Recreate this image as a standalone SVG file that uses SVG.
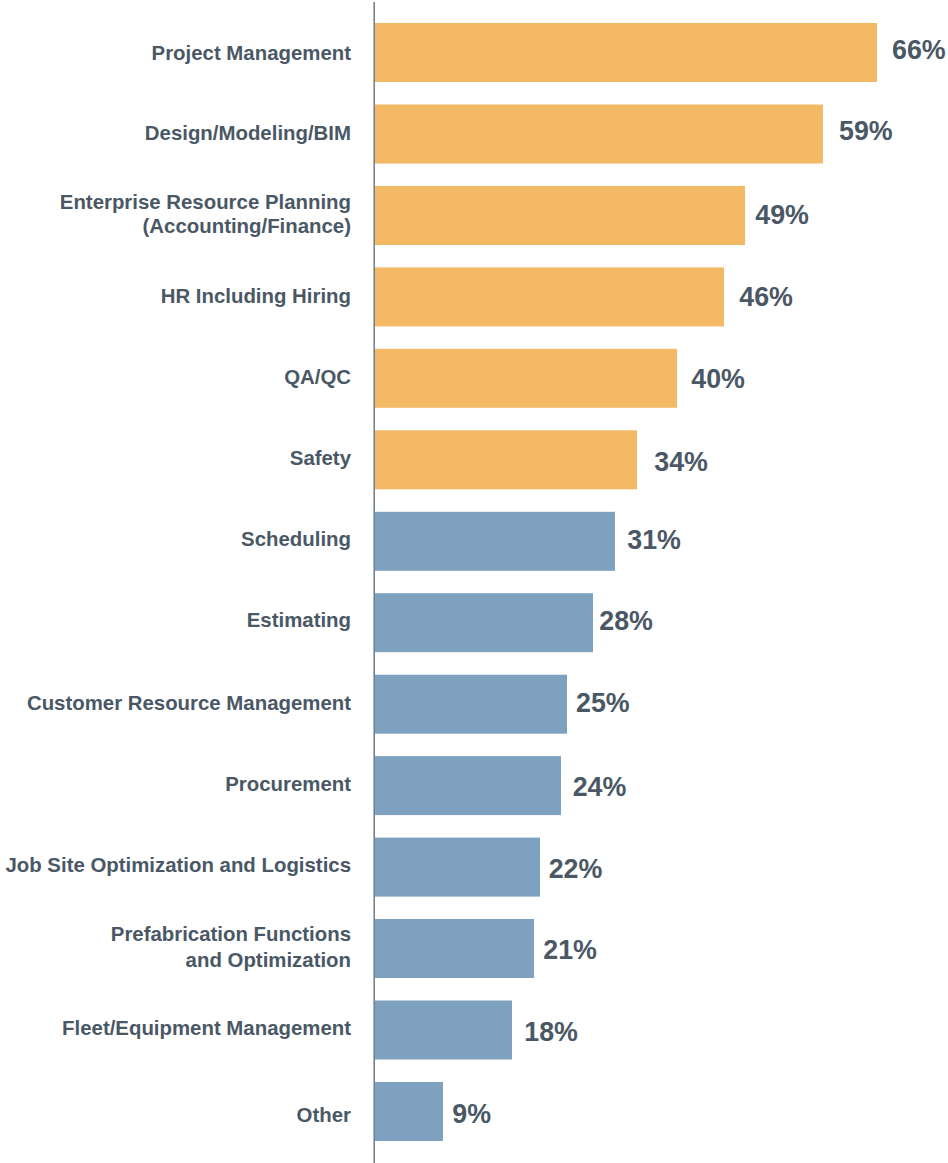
<svg xmlns="http://www.w3.org/2000/svg" width="948" height="1163" viewBox="0 0 948 1163">
<style>
.lbl{font-family:"Liberation Sans",Arial,sans-serif;font-weight:bold;font-size:20.4px;fill:#4a5866;text-anchor:end}
.val{font-family:"Liberation Sans",Arial,sans-serif;font-weight:bold;font-size:26.8px;fill:#4a5866}
.o{fill:#f4b965}
.b{fill:#7ea1bf}
</style>
<rect width="948" height="1163" fill="#ffffff"/>
<g id="bars">
<g id="n1"><rect class="o" x="375" y="23" width="502" height="59"/><text class="lbl" x="351" y="60">Project Management</text><text class="val" x="892" y="58.5">66%</text></g>
<g id="n2"><rect class="o" x="375" y="104.5" width="448" height="59"/><text class="lbl" x="351" y="139.5">Design/Modeling/BIM</text><text class="val" x="839" y="140">59%</text></g>
<g id="n3"><rect class="o" x="375" y="186" width="370" height="59"/><text class="lbl" x="351" y="209.3">Enterprise Resource Planning</text><text class="lbl" x="351" y="233.3">(Accounting/Finance)</text><text class="val" x="755.3" y="224.3">49%</text></g>
<g id="n4"><rect class="o" x="375" y="267.4" width="349" height="59"/><text class="lbl" x="351" y="303.3">HR Including Hiring</text><text class="val" x="739.3" y="305.7">46%</text></g>
<g id="n5"><rect class="o" x="375" y="348.8" width="302" height="59"/><text class="lbl" x="351" y="384.3">QA/QC</text><text class="val" x="691.3" y="387.7">40%</text></g>
<g id="n6"><rect class="o" x="375" y="430.3" width="262" height="59"/><text class="lbl" x="351" y="465">Safety</text><text class="val" x="654.3" y="471.3">34%</text></g>
<g id="n7"><rect class="b" x="375" y="511.8" width="240" height="59"/><text class="lbl" x="351" y="546">Scheduling</text><text class="val" x="627.3" y="549.3">31%</text></g>
<g id="n8"><rect class="b" x="375" y="593.2" width="218" height="59"/><text class="lbl" x="351" y="626.7">Estimating</text><text class="val" x="599.3" y="630">28%</text></g>
<g id="n9"><rect class="b" x="375" y="674.7" width="192" height="59"/><text class="lbl" x="351" y="710">Customer Resource Management</text><text class="val" x="576" y="712.3">25%</text></g>
<g id="n10"><rect class="b" x="375" y="756.1" width="186" height="59"/><text class="lbl" x="351" y="790.7">Procurement</text><text class="val" x="572.7" y="796">24%</text></g>
<g id="n11"><rect class="b" x="375" y="837.6" width="165" height="59"/><text class="lbl" x="351" y="871.7">Job Site Optimization and Logistics</text><text class="val" x="548.7" y="878.3">22%</text></g>
<g id="n12"><rect class="b" x="375" y="919" width="159" height="59"/><text class="lbl" x="351" y="941">Prefabrication Functions</text><text class="lbl" x="351" y="966.5">and Optimization</text><text class="val" x="543.3" y="959">21%</text></g>
<g id="n13"><rect class="b" x="375" y="1000.5" width="137" height="59"/><text class="lbl" x="351" y="1034.5">Fleet/Equipment Management</text><text class="val" x="524.3" y="1041">18%</text></g>
<g id="n14"><rect class="b" x="375" y="1082" width="68" height="59"/><text class="lbl" x="351" y="1122.3">Other</text><text class="val" x="452.3" y="1123.3">9%</text></g>
</g>
<g id="connectors">
<line x1="374.2" y1="2" x2="374.2" y2="1163" stroke="#6e7a86" stroke-width="1.5"/>
</g>
</svg>
